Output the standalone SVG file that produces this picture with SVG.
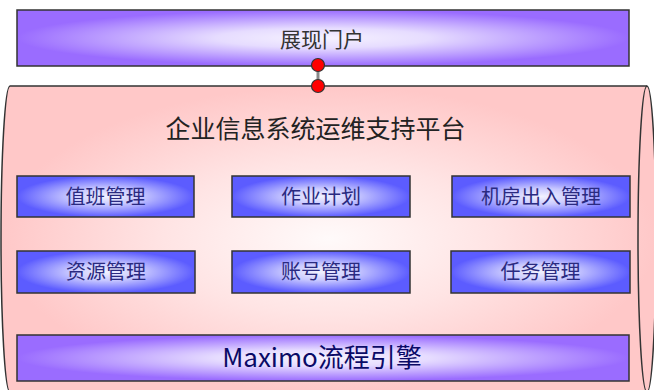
<svg xmlns="http://www.w3.org/2000/svg" width="654" height="390" viewBox="0 0 654 390">
<defs>
<radialGradient id="gPurple" cx="0.5" cy="0.5" r="0.5">
<stop offset="0" stop-color="#f6f2ff"/>
<stop offset="0.35" stop-color="#e6dcff"/>
<stop offset="1" stop-color="#9a6cff"/>
</radialGradient>
<radialGradient id="gBlue" cx="0.5" cy="0.5" r="0.5">
<stop offset="0" stop-color="#f2f2ff"/>
<stop offset="0.4" stop-color="#c8c8ff"/>
<stop offset="1" stop-color="#5c5cff"/>
</radialGradient>
<radialGradient id="gPink" cx="0.5" cy="0.5" r="0.5">
<stop offset="0" stop-color="#fffafa"/>
<stop offset="0.5" stop-color="#ffe4e4"/>
<stop offset="1" stop-color="#ffc8c8"/>
</radialGradient>
</defs>
<style>
.box{stroke:#333;stroke-width:1.5}
.blue{fill:url(#gBlue)}
.purple{fill:url(#gPurple)}
.t{font-family:"Noto Sans CJK SC","Liberation Sans",sans-serif;text-anchor:middle}
.st{font-size:20px;fill:#2a2a80}
.dot{fill:#ff0000;stroke:#333;stroke-width:1.2}
</style>
<g id="platform">
<path d="M10,86 L647,86 A9,153 0 0 1 647,392 L10,392 A9,153 0 0 1 10,86 Z" fill="url(#gPink)" stroke="#333" stroke-width="1.5"/>
<path d="M647,86 A9,153 0 0 0 647,392" fill="none" stroke="#333" stroke-width="1.5"/>
<text class="t" x="315.5" y="138" font-size="25" fill="#222">企业信息系统运维支持平台</text>
</g>
<g id="portal">
<rect class="box purple" x="17" y="10" width="612" height="56"/>
<text class="t" x="322" y="47" font-size="21" fill="#333">展现门户</text>
</g>
<g id="duty">
<rect class="box blue" x="17" y="176" width="177" height="41"/>
<text class="t st" x="105.5" y="203.5">值班管理</text>
</g>
<g id="plan">
<rect class="box blue" x="232" y="176" width="178" height="41"/>
<text class="t st" x="321" y="203.5">作业计划</text>
</g>
<g id="room">
<rect class="box blue" x="452" y="176" width="178" height="41"/>
<text class="t st" x="541" y="203.5">机房出入管理</text>
</g>
<g id="resource">
<rect class="box blue" x="17" y="251" width="178" height="42"/>
<text class="t st" x="106" y="279">资源管理</text>
</g>
<g id="account">
<rect class="box blue" x="232" y="251" width="178" height="42"/>
<text class="t st" x="321" y="279">账号管理</text>
</g>
<g id="task">
<rect class="box blue" x="451" y="251" width="179" height="42"/>
<text class="t st" x="540.5" y="279">任务管理</text>
</g>
<g id="engine">
<rect class="box purple" x="17" y="335" width="612" height="46"/>
<text class="t" x="322" y="367" font-size="26" fill="#0a0a66">Maximo流程引擎</text>
</g>
<g id="connectors">
<line x1="318" y1="65" x2="318" y2="86" stroke="#888" stroke-width="3"/>
<circle class="dot" cx="318" cy="65" r="6.5"/>
<circle class="dot" cx="318" cy="86" r="6.5"/>
</g>
</svg>
